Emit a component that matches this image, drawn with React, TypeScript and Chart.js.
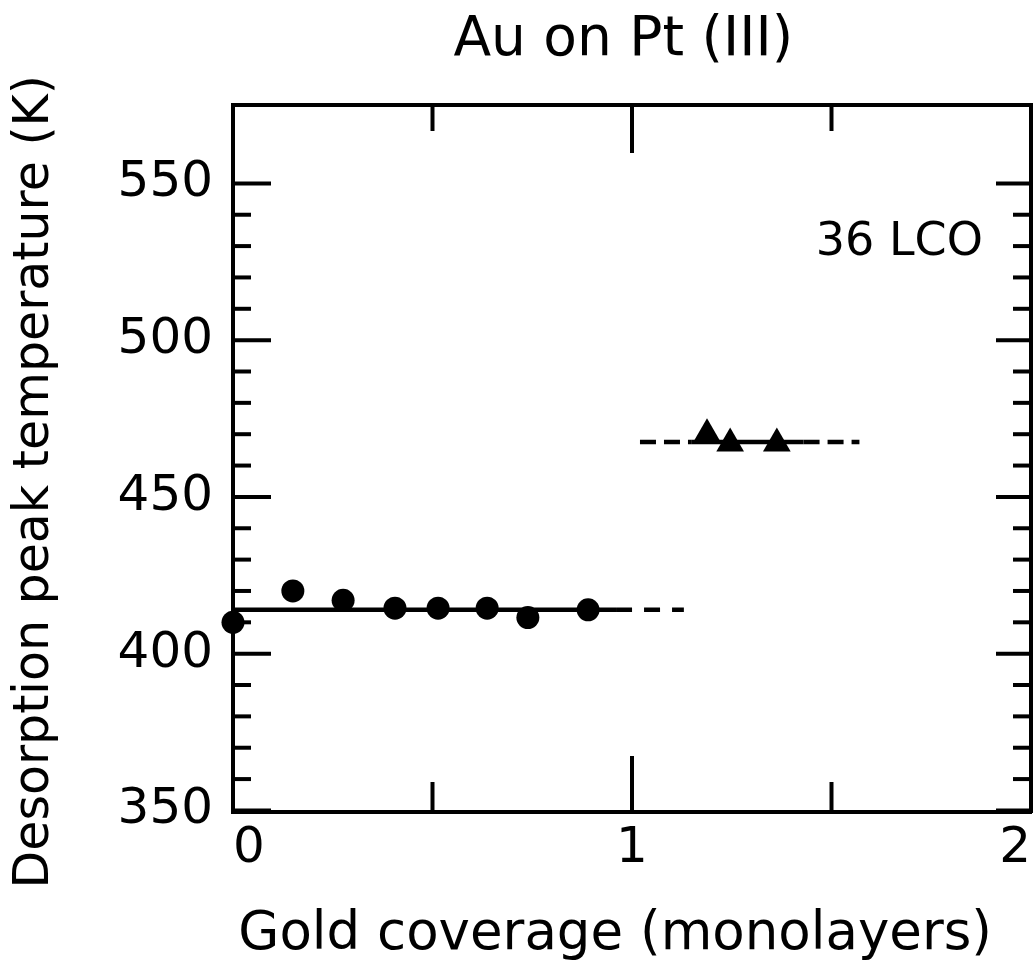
import React, { useEffect, useRef } from "react";
import { Chart, registerables } from "chart.js";

Chart.register(...registerables);

// ---- data ----
const circleCoverage = [0, 0.15, 0.276, 0.406, 0.514, 0.637, 0.739, 0.89];
const circleTemp = [410, 420, 417, 414.5, 414.5, 414.5, 411.5, 414];
const triangleCoverage = [1.188, 1.246, 1.363];
const triangleTemp = [470, 467, 467];

const lowFitTemp = 414;
const lowFitSolidX = [0, 0.96];
const lowFitDashX = [0.96, 1.13];
const highFitTemp = 467.5;
const highFitDashLeftX = [1.02, 1.15];
const highFitSolidX = [1.15, 1.43];
const highFitDashRightX = [1.43, 1.57];

const xTickLabels = [0, 1, 2];
const yTickLabels = [350, 400, 450, 500, 550];
const yMinorTicks = [360, 370, 380, 390, 410, 420, 430, 440, 460, 470, 480, 490, 510, 520, 530, 540];
const xMajorInnerTicks = [1];
const xMinorInnerTicks = [0.5, 1.5];

const titleText = "Au on Pt (III)";
const xTitle = "Gold coverage (monolayers)";
const yTitle = "Desorption peak temperature (K)";
const noteText = "36 LCO";
const notePos = { x: 1.67, y: 531 };

const FONT = "'DejaVu Sans', sans-serif";

const pts = (xs: number[], ys: number[]) => xs.map((x, i) => ({ x, y: ys[i] }));
const flat = (xs: number[], y: number) => xs.map((x) => ({ x, y }));

const innerTicksPlugin = {
  id: "innerTicks",
  afterDatasetsDraw(chart: any) {
    const { ctx, chartArea, scales } = chart;
    const { left, right, top, bottom } = chartArea;
    const xs = scales.x;
    const ys = scales.y;
    ctx.save();
    ctx.strokeStyle = "#000";
    ctx.lineWidth = 4;
    ctx.lineCap = "butt";
    const seg = (x1: number, y1: number, x2: number, y2: number) => {
      ctx.beginPath();
      ctx.moveTo(x1, y1);
      ctx.lineTo(x2, y2);
      ctx.stroke();
    };
    yTickLabels.forEach((v) => {
      const p = ys.getPixelForValue(v);
      seg(left, p, left + 38, p);
      seg(right, p, right - 35, p);
    });
    yMinorTicks.forEach((v) => {
      const p = ys.getPixelForValue(v);
      seg(left, p, left + 18, p);
      seg(right, p, right - 18, p);
    });
    xMajorInnerTicks.forEach((v) => {
      const p = xs.getPixelForValue(v);
      seg(p, bottom, p, bottom - 56);
      seg(p, top, p, top + 48);
    });
    xMinorInnerTicks.forEach((v) => {
      const p = xs.getPixelForValue(v);
      seg(p, bottom, p, bottom - 30);
      seg(p, top, p, top + 26);
    });
    // annotation text
    ctx.fillStyle = "#000";
    ctx.font = `46px ${FONT}`;
    ctx.textAlign = "center";
    ctx.textBaseline = "middle";
    ctx.fillText(noteText, xs.getPixelForValue(notePos.x), ys.getPixelForValue(notePos.y));
    ctx.restore();
  },
};

export default function App() {
  const ref = useRef<HTMLCanvasElement>(null);

  useEffect(() => {
    if (!ref.current) return;
    const lineBase = {
      type: "line" as const,
      borderColor: "#000",
      borderWidth: 4.5,
      pointRadius: 0,
      fill: false,
      order: 2,
      clip: false as any,
    };
    const chart = new Chart(ref.current, {
      type: "scatter",
      data: {
        datasets: [
          {
            data: pts(circleCoverage, circleTemp),
            pointStyle: "circle",
            pointRadius: 11.5,
            pointBackgroundColor: "#000",
            pointBorderWidth: 0,
            showLine: false,
            order: 0,
            clip: false as any,
          },
          {
            data: pts(triangleCoverage, triangleTemp),
            pointStyle: "triangle",
            pointRadius: 16,
            pointBackgroundColor: "#000",
            pointBorderWidth: 0,
            showLine: false,
            order: 0,
            clip: false as any,
          },
          { ...lineBase, data: flat(lowFitSolidX, lowFitTemp) },
          { ...lineBase, data: flat(lowFitDashX, lowFitTemp), borderDash: [16, 12] },
          { ...lineBase, data: flat(highFitDashLeftX, highFitTemp), borderDash: [16, 8] },
          { ...lineBase, data: flat(highFitSolidX, highFitTemp) },
          { ...lineBase, data: flat(highFitDashRightX, highFitTemp), borderDash: [16, 8] },
        ] as any,
      },
      options: {
        responsive: false,
        animation: false,
        devicePixelRatio: 1,
        layout: { autoPadding: false, padding: { left: 0, right: 3, top: 0, bottom: 0 } },
        plugins: {
          legend: { display: false },
          tooltip: { enabled: false },
          title: {
            display: true,
            text: titleText + " ",
            color: "#000",
            font: { family: FONT, size: 55, weight: "normal" },
            padding: { top: 8, bottom: 31 },
            fullSize: false,
          },
        },
        scales: {
          x: {
            type: "linear",
            position: "bottom",
            min: 0,
            max: 2,
            afterBuildTicks: (s: any) => {
              s.ticks = xTickLabels.map((v) => ({ value: v }));
            },
            afterFit: (s: any) => {
              s.height = 165;
              s.paddingLeft = 0;
              s.paddingRight = 0;
            },
            grid: { display: false, drawTicks: false },
            border: { display: true, width: 4, color: "#000" },
            ticks: {
              color: "#000",
              font: { family: FONT, size: 50 },
              padding: 7,
              align: "inner",
              maxRotation: 0,
              callback: (v: any) => String(v),
            },
            title: {
              display: true,
              text: xTitle + "  ",
              color: "#000",
              font: { family: FONT, size: 53 },
              padding: { top: 0, bottom: 10 },
            },
          },
          x2: {
            type: "linear",
            position: "top",
            min: 0,
            max: 2,
            afterFit: (s: any) => {
              s.height = 0;
              s.paddingLeft = 0;
              s.paddingRight = 0;
            },
            grid: { display: false, drawTicks: false },
            border: { display: true, width: 4, color: "#000" },
            ticks: { display: false },
          },
          y: {
            type: "linear",
            position: "left",
            min: 349.5,
            max: 575,
            afterBuildTicks: (s: any) => {
              s.ticks = yTickLabels.map((v) => ({ value: v }));
            },
            afterFit: (s: any) => {
              s.width = 233;
              s.paddingTop = 0;
              s.paddingBottom = 0;
            },
            grid: { display: false, drawTicks: false },
            border: { display: true, width: 4, color: "#000" },
            ticks: {
              color: "#000",
              font: { family: FONT, size: 50 },
              padding: 20,
              callback: (v: any) => String(v),
            },
            title: {
              display: true,
              text: yTitle + "   ",
              color: "#000",
              font: { family: FONT, size: 49 },
              padding: { top: 6, bottom: 0 },
            },
          },
          y2: {
            type: "linear",
            position: "right",
            min: 349.5,
            max: 575,
            afterFit: (s: any) => {
              s.width = 0;
              s.paddingTop = 0;
              s.paddingBottom = 0;
            },
            grid: { display: false, drawTicks: false },
            border: { display: true, width: 4, color: "#000" },
            ticks: { display: false },
          },
        },
      } as any,
      plugins: [innerTicksPlugin],
    });
    return () => chart.destroy();
  }, []);

  return (
    <div style={{ position: "fixed", left: 0, top: 0, width: 1034, height: 977, background: "#fff" }}>
      <canvas ref={ref} width={1034} height={977} style={{ display: "block" }} />
    </div>
  );
}
